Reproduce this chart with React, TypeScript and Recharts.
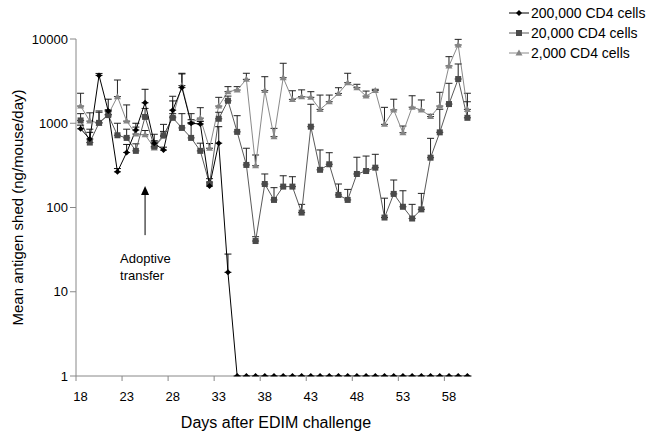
import React from "react"
import { LineChart, Line, XAxis, YAxis, ErrorBar, ReferenceLine, Label } from "recharts"

// days after challenge (one point per day)
const days = [
  18, 19, 20, 21, 22, 23, 24, 25, 26, 27, 28, 29, 30, 31, 32, 33, 34, 35, 36, 37, 38, 39,
  40, 41, 42, 43, 44, 45, 46, 47, 48, 49, 50, 51, 52, 53, 54, 55, 56, 57, 58, 59, 60,
]

const xTicks = [18, 23, 28, 33, 38, 43, 48, 53, 58]
const yTicks = [1, 10, 100, 1000, 10000]

// 200,000 CD4 cells
const cells200k = [
  860, 650, 3700, 1400, 265, 450, 830, 1750, 580, 480, 1430, 2650, 1000, 980, 180, 580, 17,
  1, 1, 1, 1, 1, 1, 1, 1, 1, 1, 1, 1, 1, 1, 1, 1, 1, 1, 1, 1, 1, 1, 1, 1, 1, 1,
]
const cells200kTop = [
  950, 780, 3900, 1930, 290, 560, 1000, 2530, 620, 520, 1840, 3850, 1100, 1050, 200, 910, 28,
  1, 1, 1, 1, 1, 1, 1, 1, 1, 1, 1, 1, 1, 1, 1, 1, 1, 1, 1, 1, 1, 1, 1, 1, 1, 1,
]

// 20,000 CD4 cells
const cells20k = [
  1080, 590, 1010, 1250, 720, 670, 470, 1190, 530, 720, 1160, 880, 670, 470, 190, 1130, 1850,
  790, 320, 40, 190, 123, 177, 177, 87, 910, 280, 326, 141, 123, 250, 271, 297, 76, 145, 102,
  74, 95, 390, 780, 1690, 3350, 1160,
]
const cells20kTop = [
  1300, 850, 1350, 1400, 1000, 850, 570, 1500, 740, 970, 1300, 1300, 1000, 580, 220, 1350, 2100,
  1230, 505, 45, 250, 172, 238, 232, 109, 1680, 482, 447, 190, 164, 395, 408, 428, 129, 212, 158,
  109, 147, 662, 1466, 2980, 5050, 1800,
]

// 2,000 CD4 cells
const cells2k = [
  1600, 1060, 1010, 1270, 2070, 1060, 745, 730, 510, 700, 1190, 2800, 1020, 1150, 505, 1600, 2370,
  2480, 3320, 313, 2440, 693, 3470, 1920, 2070, 2030, 1460, 1800, 2260, 3030, 2640, 2100, 2440,
  970, 1440, 772, 1550, 1440, 1200, 1600, 4790, 8490, 1460,
]
const cells2kTop = [
  2270, 1330, 1400, 1450, 3260, 1650, 900, 820, 600, 800, 2090, 3920, 1300, 1530, 575, 2030, 2720,
  2720, 3920, 420, 3570, 870, 5150, 2430, 2490, 2370, 2160, 2160, 2640, 3920, 2900, 2410, 2530,
  1545, 1930, 927, 2120, 1890, 1277, 2330, 6170, 9900, 2270,
]

const data = days.map((day, i) => ({
  day,
  high: cells200k[i],
  mid: cells20k[i],
  low: cells2k[i],
  highErr: [0, cells200kTop[i] - cells200k[i]],
  midErr: [0, cells20kTop[i] - cells20k[i]],
  lowErr: [0, cells2kTop[i] - cells2k[i]],
}))

const FONT = "'Liberation Sans', Arial, sans-serif"
const HALF_SLOT = 4.6

const Diamond = (p: any) => {
  const { cx, cy } = p
  if (cx == null || cy == null) return null
  return <path key={`dm-${p.index}`} d={`M${cx},${cy - 3}L${cx + 3},${cy}L${cx},${cy + 3}L${cx - 3},${cy}Z`} fill="#000" />
}

const Square = (p: any) => {
  const { cx, cy } = p
  if (cx == null || cy == null) return null
  return <rect key={`sq-${p.index}`} x={cx - 3} y={cy - 3} width={6} height={6} fill="#4a4a4a" />
}

const Triangle = (p: any) => {
  const { cx, cy } = p
  if (cx == null || cy == null) return null
  return <path key={`tr-${p.index}`} d={`M${cx},${cy - 3.5}L${cx + 3.5},${cy + 2.5}L${cx - 3.5},${cy + 2.5}Z`} fill="#858585" />
}

const XTick = (p: any) => {
  const { x, y, payload } = p
  return (
    <g>
      <line x1={x - HALF_SLOT} x2={x - HALF_SLOT} y1={y} y2={y + 5} stroke="#888" />
      <text x={x} y={y + 25} textAnchor="middle" fontSize={13} fontFamily={FONT} fill="#000">
        {payload.value}
      </text>
    </g>
  )
}

const Arrow = (p: any) => {
  const { x1, y1, y2 } = p
  const top = Math.min(y1, y2)
  const bottom = Math.max(y1, y2)
  return (
    <g>
      <line x1={x1} x2={x1} y1={top + 6} y2={bottom} stroke="#000" strokeWidth={1} />
      <path d={`M${x1},${top}L${x1 + 4},${top + 9}L${x1 - 4},${top + 9}Z`} fill="#000" />
      <text x={x1 - 25} y={bottom + 28} fontSize={13} fontFamily={FONT} fill="#000">Adoptive</text>
      <text x={x1 - 25} y={bottom + 45} fontSize={13} fontFamily={FONT} fill="#000">transfer</text>
    </g>
  )
}

const legendItems = [
  { name: "200,000 CD4 cells", line: "#000", marker: "diamond" },
  { name: "20,000 CD4 cells", line: "#5a5a5a", marker: "square" },
  { name: "2,000 CD4 cells", line: "#8a8a8a", marker: "triangle" },
]

function LegendBox() {
  return (
    <div style={{ position: "absolute", left: 508, top: 3, fontFamily: FONT, fontSize: 14 }}>
      {legendItems.map((it) => (
        <div key={it.name} style={{ display: "flex", alignItems: "center", height: 20 }}>
          <svg width={22} height={10}>
            <line x1={1} x2={21} y1={5} y2={5} stroke={it.line} />
            {it.marker === "diamond" && <path d="M11,2L14,5L11,8L8,5Z" fill="#000" />}
            {it.marker === "square" && <rect x={8} y={2} width={6} height={6} fill="#4a4a4a" />}
            {it.marker === "triangle" && <path d="M11,1.5L14.5,7.5L7.5,7.5Z" fill="#858585" />}
          </svg>
          <span style={{ marginLeft: 1 }}>{it.name}</span>
        </div>
      ))}
    </div>
  )
}

export default function App() {
  return (
    <div style={{ position: "absolute", left: 0, top: 0, width: 654, height: 439, background: "#fff" }}>
      <LineChart width={654} height={439} data={data} margin={{ top: 39, right: 182, bottom: 33, left: 0 }}>
        <XAxis
          dataKey="day"
          type="number"
          domain={[17.5, 60.5]}
          ticks={xTicks}
          interval={0}
          height={30}
          tickLine={false}
          tickSize={0}
          tickMargin={0}
          tick={<XTick />}
          stroke="#888"
        >
          <Label
            content={({ viewBox }: any) => (
              <text
                x={viewBox.x + viewBox.width / 2 + 2}
                y={viewBox.y + 52}
                textAnchor="middle"
                fontSize={16}
                fontFamily={FONT}
                fill="#000"
              >
                Days after EDIM challenge
              </text>
            )}
          />
        </XAxis>
        <YAxis
          scale="log"
          domain={[1, 10000]}
          ticks={yTicks}
          interval={0}
          allowDataOverflow
          width={76}
          stroke="#888"
          tick={{ fill: "#000", fontSize: 13, fontFamily: FONT }}
        >
          <Label
            content={({ viewBox }: any) => {
              const cy = viewBox.y + viewBox.height / 2
              return (
                <text
                  x={17}
                  y={cy}
                  transform={`rotate(-90 17 ${cy})`}
                  textAnchor="middle"
                  dominantBaseline="central"
                  fontSize={15}
                  fontFamily={FONT}
                  fill="#000"
                >
                  Mean antigen shed (ng/mouse/day)
                </text>
              )
            }}
          />
        </YAxis>
        <ReferenceLine
          segment={[
            { x: 25, y: 47 },
            { x: 25, y: 180 },
          ]}
          shape={<Arrow />}
        />
        <Line dataKey="low" stroke="#8a8a8a" strokeWidth={1} dot={<Triangle />} isAnimationActive={false}>
          <ErrorBar dataKey="lowErr" width={3.5} stroke="#222" strokeWidth={1} direction="y" />
        </Line>
        <Line dataKey="mid" stroke="#5a5a5a" strokeWidth={1} dot={<Square />} isAnimationActive={false}>
          <ErrorBar dataKey="midErr" width={3.5} stroke="#222" strokeWidth={1} direction="y" />
        </Line>
        <Line dataKey="high" stroke="#000" strokeWidth={1} dot={<Diamond />} isAnimationActive={false}>
          <ErrorBar dataKey="highErr" width={3.5} stroke="#111" strokeWidth={1} direction="y" />
        </Line>
      </LineChart>
      <LegendBox />
    </div>
  )
}
